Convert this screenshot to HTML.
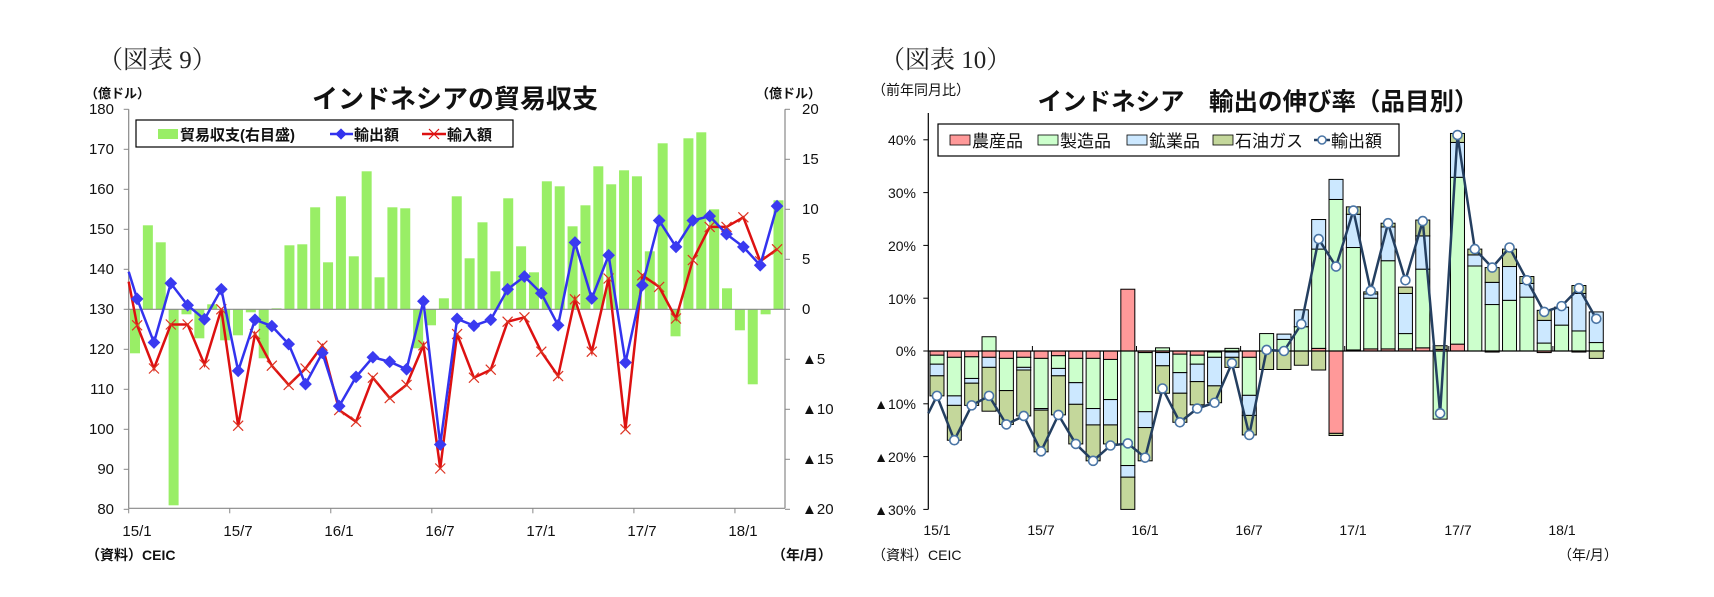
<!DOCTYPE html>
<html><head><meta charset="utf-8"><style>
html,body{margin:0;padding:0;background:#fff;}
svg{display:block;}
.j{font-family:"Liberation Sans","Noto Sans CJK JP",sans-serif;}
.s{font-family:"Liberation Serif","Noto Serif CJK JP",serif;}
</style></head><body>
<svg id="c" width="1714" height="597" viewBox="0 0 1714 597" xmlns="http://www.w3.org/2000/svg">
<rect width="1714" height="597" fill="#fff"/>
<g id="shapes"></g>
<!-- headers -->
<text class="s" x="98" y="68" font-size="25" fill="#222">（図表 9）</text>
<text class="s" x="880" y="68" font-size="25" fill="#222">（図表 10）</text>
<text class="j" x="455" y="108" font-size="26" font-weight="bold" text-anchor="middle" fill="#111">インドネシアの貿易収支</text>
<text class="j" x="1258" y="110" font-size="24.5" font-weight="bold" text-anchor="middle" fill="#111">インドネシア　輸出の伸び率（品目別）</text>
<text class="j" x="85" y="98" font-size="13" font-weight="bold" fill="#111">（億ドル）</text>
<text class="j" x="756" y="98" font-size="13" font-weight="bold" fill="#111">（億ドル）</text>
<text class="j" x="872" y="95" font-size="14" fill="#111">（前年同月比）</text>
<!-- left y labels -->
<g class="j" font-size="15" fill="#111" text-anchor="end">
<text x="114" y="114">180</text><text x="114" y="154">170</text><text x="114" y="194">160</text>
<text x="114" y="234">150</text><text x="114" y="274">140</text><text x="114" y="314">130</text>
<text x="114" y="354">120</text><text x="114" y="394">110</text><text x="114" y="434">100</text>
<text x="114" y="474">90</text><text x="114" y="514">80</text>
</g>
<g class="j" font-size="15" fill="#111">
<text x="802" y="114">20</text><text x="802" y="164">15</text><text x="802" y="214">10</text>
<text x="802" y="264">5</text><text x="802" y="314">0</text><text x="802" y="364">▲5</text>
<text x="802" y="414">▲10</text><text x="802" y="464">▲15</text><text x="802" y="514">▲20</text>
</g>
<g class="j" font-size="15" fill="#111" text-anchor="middle">
<text x="137" y="536">15/1</text><text x="238" y="536">15/7</text><text x="339" y="536">16/1</text>
<text x="440" y="536">16/7</text><text x="541" y="536">17/1</text><text x="642" y="536">17/7</text>
<text x="743" y="536">18/1</text>
</g>
<text class="j" x="86" y="560" font-size="14" font-weight="bold" fill="#111">（資料）CEIC</text>
<text class="j" x="772" y="560" font-size="14" font-weight="bold" fill="#111">（年/月）</text>
<!-- left legend -->
<rect x="136" y="120" width="377" height="27" fill="#fff" stroke="#000" stroke-width="1.2"/>
<rect x="158" y="129" width="20" height="10" fill="#99ee66"/>
<text class="j" x="180" y="140" font-size="15" font-weight="bold" fill="#111">貿易収支(右目盛)</text>
<line x1="330" y1="134" x2="353" y2="134" stroke="#3333ee" stroke-width="2.5"/>
<rect x="337" y="130" width="8" height="8" fill="#3333ee" transform="rotate(45 341 134)"/>
<text class="j" x="354" y="140" font-size="15" font-weight="bold" fill="#111">輸出額</text>
<line x1="422" y1="134" x2="446" y2="134" stroke="#dd1111" stroke-width="2.5"/>
<path d="M429 129 L439 139 M439 129 L429 139" stroke="#dd1111" stroke-width="1.2"/>
<text class="j" x="447" y="140" font-size="15" font-weight="bold" fill="#111">輸入額</text>
<!-- right y labels -->
<g class="j" font-size="14" fill="#111" text-anchor="end">
<text x="916" y="145">40%</text><text x="916" y="198">30%</text><text x="916" y="251">20%</text>
<text x="916" y="304">10%</text><text x="916" y="356">0%</text><text x="916" y="409">▲10%</text>
<text x="916" y="462">▲20%</text><text x="916" y="515">▲30%</text>
</g>
<g class="j" font-size="14" fill="#111" text-anchor="middle">
<text x="937" y="535">15/1</text><text x="1041" y="535">15/7</text><text x="1145" y="535">16/1</text>
<text x="1249" y="535">16/7</text><text x="1353" y="535">17/1</text><text x="1458" y="535">17/7</text>
<text x="1562" y="535">18/1</text>
</g>
<text class="j" x="872" y="560" font-size="14" fill="#111">（資料）CEIC</text>
<text class="j" x="1558" y="560" font-size="14" fill="#111">（年/月）</text>
<!-- right legend -->
<g id="rleg">
<rect x="938" y="124" width="461" height="32" fill="#fff" stroke="#000" stroke-width="1.2"/>
<rect x="950" y="135" width="20" height="10" fill="#ff9999" stroke="#000" stroke-width="0.8"/>
<text class="j" x="972" y="147" font-size="17" fill="#111">農産品</text>
<rect x="1038" y="135" width="20" height="10" fill="#ccffcc" stroke="#000" stroke-width="0.8"/>
<text class="j" x="1060" y="147" font-size="17" fill="#111">製造品</text>
<rect x="1127" y="135" width="20" height="10" fill="#cce8ff" stroke="#000" stroke-width="0.8"/>
<text class="j" x="1149" y="147" font-size="17" fill="#111">鉱業品</text>
<rect x="1213" y="135" width="20" height="10" fill="#c4d79b" stroke="#000" stroke-width="0.8"/>
<text class="j" x="1235" y="147" font-size="17" fill="#111">石油ガス</text>
<line x1="1314" y1="140" x2="1330" y2="140" stroke="#243f60" stroke-width="2.5"/>
<circle cx="1322" cy="140" r="4" fill="#fff" stroke="#4a75a5" stroke-width="1.5"/>
<text class="j" x="1331" y="147" font-size="17" fill="#111">輸出額</text>
</g>
</svg>
<script>
(function(){
var NS="http://www.w3.org/2000/svg",g=document.getElementById("shapes");
function el(t,a){var e=document.createElementNS(NS,t);for(var k in a)e.setAttribute(k,a[k]);g.appendChild(e);return e;}
/* ---- left chart ---- */
var L=128.7,R=785,T=109.3,B=508.3;
function yl(v){return T+(180-v)*4;}
function yr(v){return 309.3-v*10;}
var bars=[-4.4,8.4,6.7,-19.6,-0.5,-2.9,0.5,-3.1,-2.6,-0.3,-4.9,0.1,6.4,6.5,10.2,4.7,11.3,5.3,13.8,3.2,10.2,10.1,-3.9,-1.6,1.1,11.3,5.1,8.7,3.8,11.1,6.3,3.7,12.8,12.3,8.3,10.4,14.3,12.5,13.9,13.3,5.8,16.6,-2.7,17.1,17.7,10,2.1,-2.1,-7.5,-0.5,10.9];
bars.forEach(function(v,k){var cx=135+12.87*k,y0=yr(0),y1=yr(v);el("rect",{x:cx-5,y:Math.min(y0,y1),width:10,height:Math.abs(y1-y0),fill:"#99ee66"});});
el("line",{x1:L,y1:yl(130),x2:R,y2:yl(130),stroke:"#888","stroke-width":1.2});
el("line",{x1:L,y1:T,x2:L,y2:B,stroke:"#888","stroke-width":1.2});
el("line",{x1:R,y1:T,x2:R,y2:B,stroke:"#888","stroke-width":1.2});
el("line",{x1:L,y1:B,x2:R,y2:B,stroke:"#888","stroke-width":1.2});
for(var v=80;v<=180;v+=10)el("line",{x1:L-5,y1:yl(v),x2:L,y2:yl(v),stroke:"#888"});
for(var r=-20;r<=20;r+=5)el("line",{x1:R,y1:yr(r),x2:R+5,y2:yr(r),stroke:"#888"});
for(var k=0;k<=6;k++){var x=L+101.04*k;el("line",{x1:x,y1:B,x2:x,y2:B+5,stroke:"#888"});}
var blue=[132.6,121.7,136.5,131,127.5,135,114.6,127.4,125.8,121.3,111.3,119.1,105.8,113.1,118,116.9,115,132,96.2,127.6,125.9,127.4,135,138.2,134,126,146.7,132.7,143.5,116.7,136,152.2,145.6,152.2,153.3,148.8,145.6,141,155.8];
var red=[126,115.2,126.2,126.2,116.2,130,100.9,123.8,115.9,111.1,115.2,120.9,104.8,101.9,112.9,107.8,111.1,121,90.2,123.8,112.9,114.9,126.9,128,119.4,113.3,132.5,119.4,137.7,100,138.5,135.6,127.7,142.3,150.6,150.6,153,142,145];
function xi(i){return L+16.84*(i+0.5);}
function pts(a,s){var p=[[L,yl(s)]];a.forEach(function(v,i){p.push([xi(i),yl(v)]);});return p;}
var rp=pts(red,136.9),bp=pts(blue,139.4);
el("polyline",{points:rp.map(function(q){return q.join(",")}).join(" "),fill:"none",stroke:"#dd1111","stroke-width":2.5});
rp.slice(1).forEach(function(q){el("path",{d:"M"+(q[0]-5)+" "+(q[1]-5)+"L"+(q[0]+5)+" "+(q[1]+5)+"M"+(q[0]+5)+" "+(q[1]-5)+"L"+(q[0]-5)+" "+(q[1]+5),stroke:"#dd3322","stroke-width":1.2});});
el("polyline",{points:bp.map(function(q){return q.join(",")}).join(" "),fill:"none",stroke:"#3333ee","stroke-width":2.5});
bp.slice(1).forEach(function(q){el("rect",{x:q[0]-4.5,y:q[1]-4.5,width:9,height:9,fill:"#3a3af0",transform:"rotate(45 "+q[0]+" "+q[1]+")"});});
/* ---- right chart ---- */
var RL=928.3,RR=1605,Z=351;
function y2(v){return Z-v*5.28;}
var D=[[-0.8,-1.7,-2.2,-3.8,-8.5],[-1.2,-7.3,-1.8,-6.6,-16.9],[-1.1,-4.1,-0.9,-4.2,-10.3],[-1.2,2.7,-1.9,-8.3,-8.5],[-1.4,-6.1,0,-6.4,-13.9],[-1.2,-1.9,-0.5,-8.7,-12.3],[-1.4,-9.5,-0.3,-7.9,-19.0],[-0.9,-2.4,-1.4,-7.4,-12.1],[-1.4,-4.6,-4.1,-7.5,-17.6],[-1.4,-9.5,-3.1,-6.8,-20.8],[-1.6,-7.6,-4.8,-3.6,-17.9],[11.7,-21.7,-2.2,-6.1,-17.5],[-0.3,-11.2,-3.0,-6.3,-20.2],[-0.3,0.6,-2.5,-5.2,-7.1],[-0.6,-3.5,-3.9,-5.5,-13.5],[-0.8,-1.7,-3.3,-4.4,-10.9],[-0.2,-1.0,-5.4,-3.2,-9.8],[-0.2,0.5,-1.0,-1.9,-2.3],[-1.2,-7.2,-3.8,-3.7,-15.9],[0,3.3,0,-3.5,0.2],[0,2.2,1.0,-3.5,0],[0,4.6,3.2,-2.7,5.1],[0.5,18.8,5.6,-3.6,21.2],[-15.6,28.7,3.8,-0.4,16.0],[0.2,19.4,6.3,1.4,26.6],[0.4,9.6,0.8,0.4,11.4],[0.4,16.7,6.4,0.7,24.2],[0.4,2.9,7.6,1.2,13.4],[0.6,14.9,6.3,3.0,24.6],[0.3,-12.9,0,0.7,-11.8],[1.3,31.6,6.6,1.7,40.9],[0,16.1,2.1,1.1,19.3],[-0.2,8.8,4.2,2.8,15.8],[0,9.6,6.4,3.3,19.6],[0,10.2,2.6,1.3,13.4],[-0.3,1.5,4.3,1.9,7.4],[0,4.9,3.4,0,8.5],[-0.2,3.8,7.1,1.5,11.9],[0,1.6,5.8,-1.4,6.1]];
var cols=["#ff9999","#ccffcc","#cce8ff","#c4d79b"];
function xc(i){return RL+17.35*(i+0.5);}
D.forEach(function(d,i){var pos=0,neg=0,cx=xc(i);for(var s=0;s<4;s++){var v=d[s];if(v===0)continue;var a,b;if(v>0){a=pos;b=pos+v;pos=b;}else{a=neg;b=neg+v;neg=b;}var ya=y2(a),yb=y2(b);el("rect",{x:cx-7,y:Math.min(ya,yb),width:14,height:Math.abs(yb-ya),fill:cols[s],stroke:"#000","stroke-width":1});}});
el("line",{x1:RL,y1:Z,x2:RR,y2:Z,stroke:"#000","stroke-width":1.2});
el("line",{x1:RL,y1:113,x2:RL,y2:y2(-30),stroke:"#000","stroke-width":1.2});
for(var v=-30;v<=40;v+=10)el("line",{x1:RL-5,y1:y2(v),x2:RL,y2:y2(v),stroke:"#000"});
for(var k=1;k<=6;k++){var x=RL+104.1*k;el("line",{x1:x,y1:Z-5,x2:x,y2:Z,stroke:"#000"});}
var lp=[[RL,y2(-11.8)]];D.forEach(function(d,i){lp.push([xc(i),y2(d[4])]);});
el("polyline",{points:lp.map(function(q){return q.join(",")}).join(" "),fill:"none",stroke:"#243f60","stroke-width":2.5});
lp.slice(1).forEach(function(q){el("circle",{cx:q[0],cy:q[1],r:4.5,fill:"#fff",stroke:"#4a75a5","stroke-width":1.6});});
})();
</script>
</body></html>
